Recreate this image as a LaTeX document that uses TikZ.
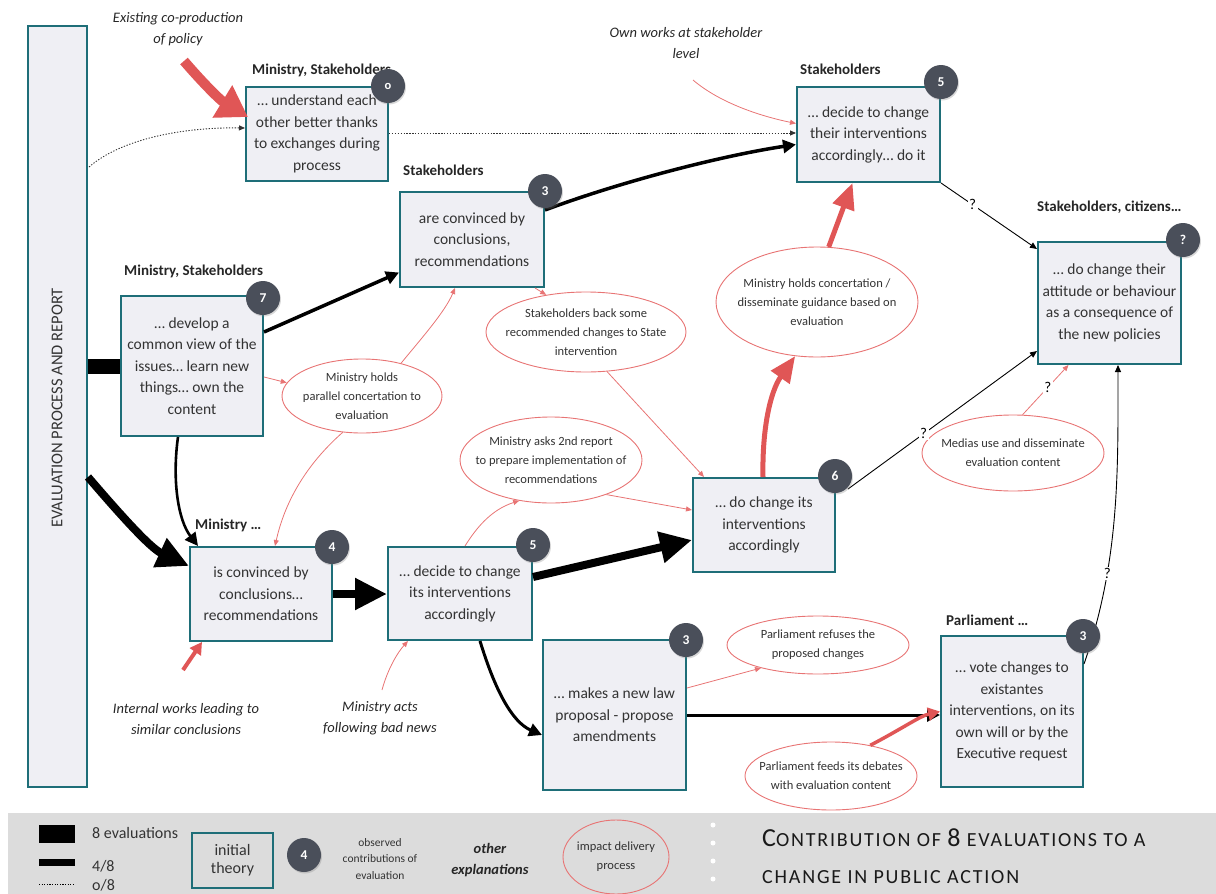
\documentclass[tikz,border=0pt]{standalone}
\usepackage{fontspec}
\setmainfont{Carlito}
\usetikzlibrary{arrows.meta,shapes.geometric,calc,shadows}
\definecolor{teal2}{HTML}{1E6E78}
\definecolor{boxfill}{HTML}{EFEFF4}
\definecolor{badge}{HTML}{4A4F5A}
\definecolor{red1}{HTML}{E05656}
\definecolor{red2}{HTML}{E87474}
\definecolor{band}{HTML}{DCDCDC}
\definecolor{txt}{HTML}{333333}
\begin{document}
\begin{tikzpicture}[x=1pt,y=-1pt,
  tbox/.style={draw=teal2,line width=2pt,fill=boxfill,align=center,inner sep=0pt,font=\fontsize{15.5}{21.5}\selectfont,text=txt},
  ttl/.style={anchor=west,font=\bfseries\fontsize{15}{16}\selectfont,inner sep=0pt,text=black!85},
  bdg/.style={circle,fill=badge,text=white,minimum size=34pt,inner sep=0pt,font=\bfseries\fontsize{13.5}{13.5}\selectfont,drop shadow={opacity=0.3,shadow xshift=1pt,shadow yshift=-1.5pt}},
  ell/.style={ellipse,draw=red2,line width=0.9pt,fill=white,inner sep=0pt},
  elltxt/.style={align=center,inner sep=0pt,font=\fontsize{12.5}{19}\selectfont,text=txt},
  ital/.style={align=center,font=\itshape\fontsize{14.5}{21}\selectfont,inner sep=0pt,text=black!85},
  thinr/.style={draw=red2,line width=0.8pt,-{Triangle[length=6pt,width=5pt]}},
  thickr/.style={draw=red1,line width=4pt,-{Triangle[length=12pt,width=13pt]}},
  thinb/.style={draw=black,line width=0.9pt,-{Triangle[length=7pt,width=6pt]}},
  medb/.style={draw=black,line width=3pt,-{Triangle[length=13pt,width=13pt]}},
  heavyb/.style={draw=black,line width=8pt,-{Triangle[length=32pt,width=30pt]}},
  dotb/.style={draw=black!80,line width=0.9pt,dash pattern=on 1.3pt off 1.6pt,-{Triangle[length=6pt,width=5pt]}},
  qlab/.style={fill=white,inner sep=1.5pt,font=\fontsize{15}{15}\selectfont}
]
\useasboundingbox (0,0) rectangle (1216,894);

% left bar
\node[draw=teal2,line width=2pt,fill=boxfill,minimum width=59pt,minimum height=761pt,inner sep=0pt] (bar) at (57.5,406.5) {};
\node[rotate=90,font=\fontsize{16.5}{16.5}\selectfont,text=txt] (bartxt) at (57,408) {EVALUATION PROCESS AND REPORT};

% boxes
\node[tbox,minimum width=142pt,minimum height=94pt] (b0) at (317,134) {… understand each\\other better thanks\\to exchanges during\\process};
\node[tbox,minimum width=142pt,minimum height=140pt] (b7) at (192,366) {… develop a\\common view of the\\issues… learn new\\things… own the\\content};
\node[tbox,minimum width=144pt,minimum height=95pt] (b3s) at (472,239.5) {are convinced by\\conclusions,\\recommendations};
\node[tbox,minimum width=143pt,minimum height=95pt] (b5s) at (868.5,134.5) {… decide to change\\their interventions\\accordingly… do it};
\node[tbox,minimum width=143pt,minimum height=122pt] (bq) at (1109.5,303) {… do change their\\attitude or behaviour\\as a consequence of\\the new policies};
\node[tbox,minimum width=142pt,minimum height=94pt] (b4) at (261,594) {is convinced by\\conclusions…\\recommendations};
\node[tbox,minimum width=144pt,minimum height=93pt] (b5m) at (460,593.5) {… decide to change\\its interventions\\accordingly};
\node[tbox,minimum width=142pt,minimum height=94pt] (b6) at (764,525) {… do change its\\interventions\\accordingly};
\node[tbox,minimum width=143pt,minimum height=150pt] (blaw) at (614.5,715) {… makes a new law\\proposal - propose\\amendments};
\node[tbox,minimum width=142pt,minimum height=151pt] (bparl) at (1012,711.5) {… vote changes to\\existantes\\interventions, on its\\own will or by the\\Executive request};

% titles
\node[ttl] (t0) at (252,70) {Ministry, Stakeholders};
\node[ttl] (t7) at (124,271) {Ministry, Stakeholders};
\node[ttl] (t3s) at (403,170) {Stakeholders};
\node[ttl] (t5s) at (800,69) {Stakeholders};
\node[ttl] (tq) at (1037,207) {Stakeholders, citizens…};
\node[ttl] (t4) at (195,525) {Ministry …};
\node[ttl] (tparl) at (946,620) {Parliament …};

% ellipses
\node[ell,minimum width=160pt,minimum height=74pt] (e1) at (362,396) {};
\node[elltxt] (e1t) at (e1) {Ministry holds\\parallel concertation to\\evaluation};
\node[ell,minimum width=200pt,minimum height=80pt] (e2) at (586,332) {};
\node[elltxt] (e2t) at (e2) {Stakeholders back some\\recommended changes to State\\intervention};
\node[ell,minimum width=202pt,minimum height=110pt] (e3) at (817,302) {};
\node[elltxt] (e3t) at (e3) {Ministry holds concertation /\\disseminate guidance based on\\evaluation};
\node[ell,minimum width=182pt,minimum height=86pt] (e4) at (551,460) {};
\node[elltxt] (e4t) at (e4) {Ministry asks 2nd report\\to prepare implementation of\\recommendations};
\node[ell,minimum width=182pt,minimum height=76pt] (e5) at (1013,453) {};
\node[elltxt] (e5t) at (e5) {Medias use and disseminate\\evaluation content};
\node[ell,minimum width=182pt,minimum height=58pt] (e6) at (818,645) {};
\node[elltxt] (e6t) at (e6) {Parliament refuses the\\proposed changes};
\node[ell,minimum width=172pt,minimum height=68pt] (e7) at (831,776) {};
\node[elltxt] (e7t) at (e7) {Parliament feeds its debates\\with evaluation content};

% italic labels
\node[ital] (lex) at (178,29) {Existing co-production\\of policy};
\node[ital] (lown) at (686,43) {Own works at stakeholder\\level};
\node[ital] (lint) at (186,719) {Internal works leading to\\similar conclusions};
\node[ital] (lmin) at (380,718) {Ministry acts\\following bad news};
\coordinate (cex) at (184,61);
\coordinate (cown) at (693,80);
\coordinate (cint) at (183,670);
\coordinate (cmin) at (382,690);

% black connectors
\draw[line width=15pt] (bar.east |- b7.west) -- (b7.west);
\draw[heavyb] ($(bar.north east)+(0,452)$) .. controls (118,512) and (150,548) .. ($(b4.west)+(0,-28)$);
\draw[dotb] ($(bar.north east)+(1,142)$) .. controls (120,140) and (180,127) .. ($(b0.west)+(0,-6)$);
\draw[dotb] ($(b0.east)+(0,-1)$) -- ($(b5s.west)+(0,-1.5)$);
\draw[medb,line width=3.5pt] ($(b7.east)+(0,-34)$) -- ($(b3s.west)+(0,33)$);
\draw[medb,line width=3.5pt] ($(b3s.east)+(0,-29.5)$) .. controls (620,182) and (720,156) .. ($(b5s.west)+(0,10)$);
\draw[medb,line width=2.6pt] ($(b7.south)+(-14,0)$) .. controls (172,480) and (178,520) .. ($(b4.north)+(-63,0)$);
\draw[heavyb] (b4.east) -- (b5m.west |- b4.east);
\draw[heavyb] ($(b5m.east)+(0,-16.5)$) -- ($(b6.west)+(0,15)$);
\draw[medb] ($(b5m.south)+(20,0)$) .. controls (495,690) and (512,722) .. ($(blaw.west)+(0,20)$);
\draw[medb] (blaw.east) -- (bparl.west |- blaw.east);
\draw[thinb] (b5s.south east) -- node[qlab,pos=0.33] {?} ($(bq.north west)+(0,8)$);
\draw[thinb] ($(b6.east)+(12,-36)$) -- node[qlab,pos=0.4] {?} ($(bq.south west)+(0,-14)$);
\draw[thinb] ($(bparl.north east)+(0,29)$) .. controls (1120,560) and (1118,470) .. node[qlab,pos=0.3] {?} ($(bq.south)+(8.5,0)$);

% red connectors
\draw[draw=red1,line width=10pt,-{Triangle[length=30pt,width=36pt]}] (cex) .. controls (202,82) and (220,100) .. ($(b0.west)+(3,-17)$);
\draw[thinr] (cown) .. controls (720,103) and (760,116) .. ($(b5s.west)+(0,-11)$);
\draw[draw=red1,line width=5pt,-{Triangle[length=26pt,width=22pt]}] ($(b6.north)+(-1,0)$) .. controls (762,430) and (770,392) .. (e3.-112);
\draw[draw=red1,line width=5pt,-{Triangle[length=26pt,width=22pt]}] (e3.78) -- ($(b5s.south)+(-16,0)$);
\draw[thinr] ($(b7.east)+(0,11)$) -- (e1.170);
\draw[thinr] (e1.40) .. controls (420,340) and (445,312) .. ($(b3s.south)+(-17,0)$);
\draw[thinr] (e1.-118) .. controls (300,470) and (283,510) .. ($(b4.north)+(14,0)$);
\draw[thinr] ($(b3s.south)+(63,0)$) -- (e2.137);
\draw[thinr] (e2.-62) -- ($(b6.north west)+(12,0)$);
\draw[thinr] ($(b5m.north)+(5,0)$) .. controls (475,530) and (490,510) .. (e4.-128);
\draw[thinr] (e4.-32) -- ($(b6.west)+(0,-15)$);
\draw[thinr] (e5.76) -- node[qlab,pos=0.55,text=black] {?} ($(bq.south)+(-41,0)$);
\draw[thinr] ($(blaw.east)+(0,-27)$) -- (e6.-158);
\draw[thickr,line width=3.5pt] (e7.38) .. controls (905,727) and (920,716) .. (bparl.west);
\draw[thickr] (cint) -- ($(b4.south west)+(13,0)$);
\draw[thinr] (cmin) .. controls (388,668) and (398,652) .. ($(b5m.south west)+(21,0)$);

% badges
\node[bdg,font=\bfseries\fontsize{12.5}{12.5}\selectfont] (c0) at (388,86) {o};
\node[bdg] (c7) at (263,298) {7};
\node[bdg] (c3s) at (545,191) {3};
\node[bdg] (c5s) at (941,82) {5};
\node[bdg] (cq) at (1183,240) {?};
\node[bdg] (c4) at (332,547) {4};
\node[bdg] (c5m) at (533,545) {5};
\node[bdg] (c6) at (835,476) {6};
\node[bdg] (claw) at (686,640) {3};
\node[bdg] (cparl) at (1083,636) {3};

% legend band
\fill[band] (8,813) rectangle (1216,894);
\node[fill=black,minimum width=36pt,minimum height=18pt,inner sep=0pt] (lg8) at (57,834) {};
\node[anchor=west,font=\fontsize{16}{16}\selectfont,text=txt,inner sep=0pt] (lg8t) at (92,833) {8 evaluations};
\draw[line width=7pt] (39,862) -- (75,862);
\node[anchor=west,font=\fontsize{16}{16}\selectfont,text=txt,inner sep=0pt] (lg4t) at (92,866) {4/8};
\draw[line width=0.8pt,dash pattern=on 1.2pt off 1.4pt] (39,884) -- (75,884);
\node[anchor=west,font=\fontsize{16}{16}\selectfont,text=txt,inner sep=0pt] (lg0t) at (92,885) {o/8};
\node[draw=teal2,line width=2pt,minimum width=81pt,minimum height=55pt,inner sep=0pt,align=center,font=\fontsize{16}{18}\selectfont,text=txt] (lgbox) at (232.5,860.5) {initial\\theory};
\node[bdg] (lgc) at (304,855) {4};
\node[align=center,font=\fontsize{11.5}{16.5}\selectfont,text=txt,inner sep=0pt] (lgobs) at (380,859) {observed\\contributions of\\evaluation};
\node[align=center,font=\bfseries\itshape\fontsize{14.5}{21}\selectfont,text=black!85,inner sep=0pt] (lgoth) at (490,860) {other\\explanations};
\node[ell,minimum width=106pt,minimum height=74pt,fill=none] (lgell) at (616,857) {};
\node[elltxt] (lgellt) at (lgell) {impact delivery\\process};
\foreach \yy in {825,843,861,879} \fill[white] (713,\yy) circle (2.5pt);
\node[anchor=west,inner sep=0pt,text=black!90] (title1) at (762,838) {\addfontfeature{LetterSpace=9}{\fontsize{26}{26}\selectfont C}{\fontsize{20}{26}\selectfont ONTRIBUTION OF }{\fontsize{26}{26}\selectfont 8}{\fontsize{20}{26}\selectfont\ EVALUATIONS TO A}};
\node[anchor=west,inner sep=0pt,text=black!90] (title2) at (762,877) {\addfontfeature{LetterSpace=9}\fontsize{20}{26}\selectfont CHANGE IN PUBLIC ACTION};
\end{tikzpicture}
\end{document}
